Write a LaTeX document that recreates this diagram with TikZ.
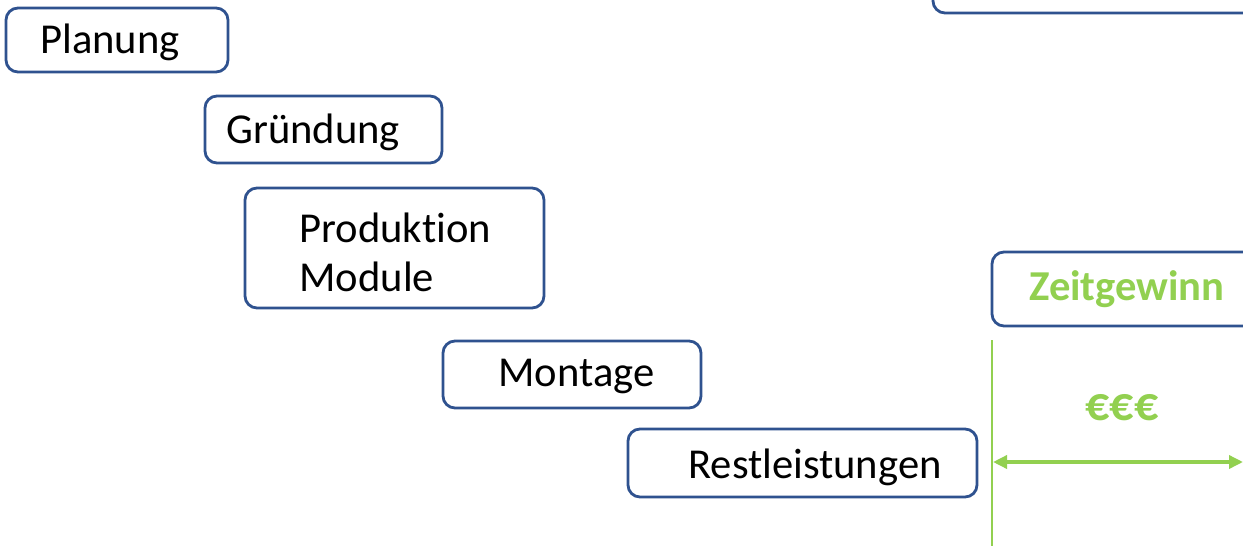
\documentclass[tikz,border=0pt]{standalone}
\usepackage{fontspec}
\setmainfont{Carlito}[Ligatures=CommonOff]
\usetikzlibrary{arrows.meta, positioning}
\definecolor{boxblue}{HTML}{2F528F}
\definecolor{gain}{HTML}{92D050}
\tikzset{
  phase/.style={draw=boxblue, line width=1.4pt, rounded corners=6pt, fill=white},
  phasetext/.style={anchor=west, inner sep=0pt, font=\fontsize{21.3}{24.5}\selectfont},
}

\begin{document}
\begin{tikzpicture}[x=0.5pt, y=-0.5pt]
  \useasboundingbox (0,0) rectangle (1243,546);
  \clip (0,0) rectangle (1243,546);

  % Phases
  \node[phase, minimum width=111pt, minimum height=32pt] (plan) at (117,40) {};
  \node[phasetext] (plantext) at (40,42) {Planung};

  \node[phase, minimum width=118.5pt, minimum height=33.5pt] (grund) at (323.5,129.5) {};
  \node[phasetext] (grundtext) at (226,132) {Gründung};

  \node[phase, minimum width=149.5pt, minimum height=60pt] (prod) at (394.5,248) {};
  \node[phasetext, align=left] (prodtext) at (299,252) {Produktion\\Module};

  \node[phase, minimum width=129pt, minimum height=33.5pt] (mont) at (572,374.5) {};
  \node[phasetext] (monttext) at (498,376) {Montage};

  \node[phase, minimum width=174.5pt, minimum height=34pt] (rest) at (802.5,463) {};
  \node[phasetext] (resttext) at (688,467) {Restleistungen};

  % Box at top right (cut off)
  \node[phase, minimum width=183.5pt, minimum height=31.5pt] (top) at (1116.5,-18.5) {};

  % Time gain
  \node[phase, minimum width=135pt, minimum height=37pt, text=gain,
        font=\fontsize{21.3}{24}\selectfont\bfseries] (zeit) at (1127,289) {Zeitgewinn};

  \coordinate (linetop) at (992,340);
  \coordinate (linebot) at (992,546);
  \draw[gain, line width=1pt] (linetop) -- (linebot);

  \node[text=gain, font=\fontsize{24}{28}\selectfont\bfseries] (euro) at (1122,408) {€€€};

  \coordinate (arrowl) at (993,462);
  \coordinate (arrowr) at (1243,462);
  \draw[gain, line width=1.7pt, {Triangle[length=7pt,width=6.5pt]}-{Triangle[length=7pt,width=6.5pt]}] (arrowl) -- (arrowr);
\end{tikzpicture}
\end{document}
